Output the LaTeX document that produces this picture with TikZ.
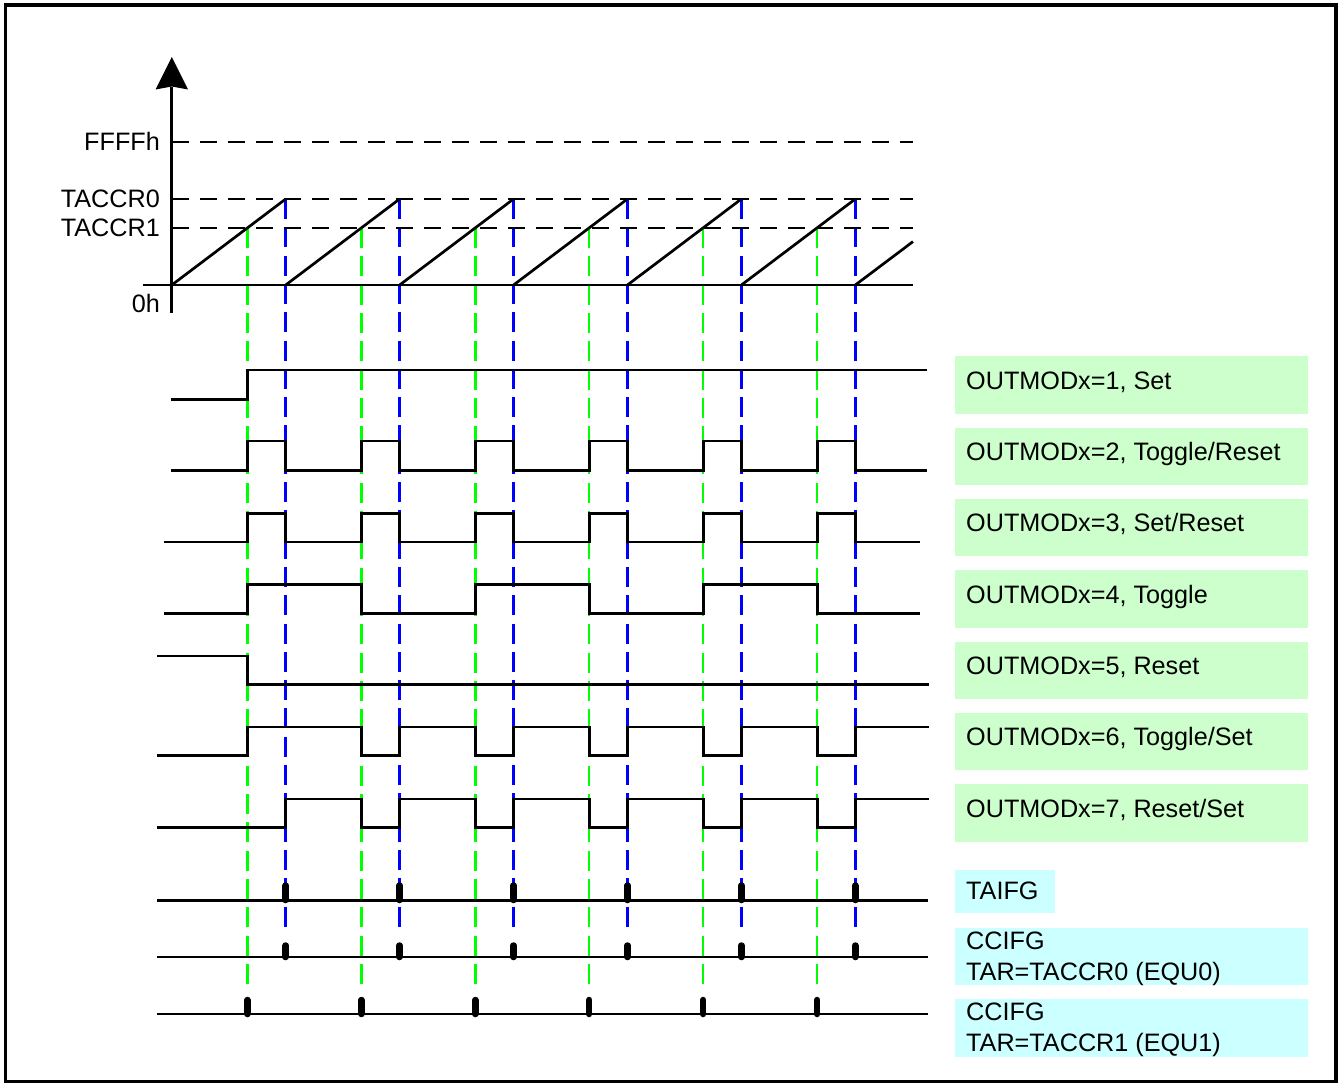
\documentclass[tikz,border=0pt]{standalone}
\usepackage{fontspec}
\setmainfont{Liberation Sans}
\definecolor{boxgreen}{HTML}{CCFFCC}
\definecolor{boxcyan}{HTML}{CCFFFF}
\definecolor{lgreen}{HTML}{00FF00}
\definecolor{lblue}{HTML}{0000FF}
\begin{document}
\begin{tikzpicture}[x=1pt,y=-1pt,
  sig/.style={line width=2.7pt},
  hdash/.style={line width=2.7pt,dash pattern=on 17pt off 11pt},
  gdash/.style={line width=2.5pt,lgreen,dash pattern=on 20pt off 8.3pt},
  bdash/.style={line width=2.5pt,lblue,dash pattern=on 20pt off 8.3pt},
  pulse/.style={line width=6.5pt,line cap=round},
  gbox/.style={fill=boxgreen,draw=none,inner sep=0pt,anchor=north west,minimum width=353pt,minimum height=57.3pt},
  cbox/.style={fill=boxcyan,draw=none,inner sep=0pt,anchor=north west,minimum height=57.3pt},
  lbl/.style={inner sep=0pt,font=\fontsize{25.2}{30}\selectfont},
]
\useasboundingbox (0,0) rectangle (1341,1083);
\draw[line width=3.5pt] (5.5,5) rectangle (1336,1081.5);

% label boxes
\node[gbox] (box1) at (955,356) {};
\node[gbox] (box2) at (955,427.3) {};
\node[gbox] (box3) at (955,498.6) {};
\node[gbox] (box4) at (955,570) {};
\node[gbox] (box5) at (955,641.3) {};
\node[gbox] (box6) at (955,712.6) {};
\node[gbox] (box7) at (955,784) {};
\node[cbox,minimum width=100pt,minimum height=42.7pt] (box8) at (955,870) {};
\node[cbox,minimum width=353pt,minimum height=56.6pt] (box9) at (955,927.7) {};
\node[cbox,minimum width=353pt,minimum height=57.3pt] (box10) at (955,999) {};

\node[lbl,anchor=base west] (t1) at (966,389.3) {OUTMODx=1, Set};
\node[lbl,anchor=base west] (t2) at (966,460.6) {OUTMODx=2, Toggle/Reset};
\node[lbl,anchor=base west] (t3) at (966,531.9) {OUTMODx=3, Set/Reset};
\node[lbl,anchor=base west] (t4) at (966,603.3) {OUTMODx=4, Toggle};
\node[lbl,anchor=base west] (t5) at (966,674.6) {OUTMODx=5, Reset};
\node[lbl,anchor=base west] (t6) at (966,745.9) {OUTMODx=6, Toggle/Set};
\node[lbl,anchor=base west] (t7) at (966,817.3) {OUTMODx=7, Reset/Set};
\node[lbl,anchor=base west] (t8) at (966,899) {TAIFG};
\node[lbl,anchor=base west] (t9a) at (966,949.3) {CCIFG};
\node[lbl,anchor=base west] (t9b) at (966,980) {TAR=TACCR0 (EQU0)};
\node[lbl,anchor=base west] (t10a) at (966,1020.3) {CCIFG};
\node[lbl,anchor=base west] (t10b) at (966,1051) {TAR=TACCR1 (EQU1)};

% axis labels
\node[lbl,anchor=base east] (lf) at (160,150.3) {FFFFh};
\node[lbl,anchor=base east] (lc0) at (160,207.2) {TACCR0};
\node[lbl,anchor=base east] (lc1) at (160,236.2) {TACCR1};
\node[lbl,anchor=base east] (l0) at (160,312.7) {0h};

% vertical dashed timing lines
\foreach \i in {0,...,5} {
  \draw[gdash] ({247.3+113.98*\i},228) -- ({247.3+113.98*\i},988);
  \draw[bdash] ({285.7+113.92*\i},199) -- ({285.7+113.92*\i},932);
}

% counter plot
\draw[hdash] (172,142) -- (913,142);
\draw[hdash] (172,199) -- (913,199);
\draw[hdash] (172,228) -- (913,228);
\draw[sig] (142.7,285) -- (913,285);
\draw[sig] (171.8,87) -- (171.8,313);
\fill (171.8,57) -- (188,89.5) -- (171.8,86.5) -- (155.6,89.5) -- cycle;
\draw[sig] (171.8,285) -- (285.7,199);
\foreach \i in {1,...,5} {
  \draw[sig] ({285.7+113.92*(\i-1)},285) -- ({285.7+113.92*\i},199);
}
\draw[sig] (855.3,285) -- (913,241.6);

% OUTMOD 1
\draw[sig] (171,399.3) -- (247.3,399.3) -- (247.3,370) -- (927,370);
% OUTMOD 2
\draw[sig] (171,470.3) \foreach \i in {0,...,5} { -- ({247.3+113.98*\i},470.3) -- ({247.3+113.98*\i},441) -- ({285.7+113.92*\i},441) -- ({285.7+113.92*\i},470.3) } -- (927,470.3);
% OUTMOD 3
\draw[sig] (164,542) \foreach \i in {0,...,5} { -- ({247.3+113.98*\i},542) -- ({247.3+113.98*\i},513.3) -- ({285.7+113.92*\i},513.3) -- ({285.7+113.92*\i},542) } -- (920,542);
% OUTMOD 4
\draw[sig] (164,613.3) -- (247.3,613.3) -- (247.3,584.3) -- (361.3,584.3) -- (361.3,613.3)
  -- (475.3,613.3) -- (475.3,584.3) -- (589.2,584.3) -- (589.2,613.3)
  -- (703.2,613.3) -- (703.2,584.3) -- (817.2,584.3) -- (817.2,613.3) -- (920,613.3);
% OUTMOD 5
\draw[sig] (157,656) -- (247.3,656) -- (247.3,684.3) -- (929,684.3);
% OUTMOD 6
\draw[sig] (157,755.7) -- (247.3,755.7) -- (247.3,727) \foreach \i in {1,...,5} { -- ({247.3+113.98*\i},727) -- ({247.3+113.98*\i},755.7) -- ({285.7+113.92*\i},755.7) -- ({285.7+113.92*\i},727) } -- (929,727);
% OUTMOD 7
\draw[sig] (157,827.7) -- (285.7,827.7) -- (285.7,799) \foreach \i in {1,...,5} { -- ({247.3+113.98*\i},799) -- ({247.3+113.98*\i},827.7) -- ({285.7+113.92*\i},827.7) -- ({285.7+113.92*\i},799) } -- (929,799);

% flags
\draw[sig] (157,900.7) -- (928,900.7);
\draw[sig] (157,957) -- (928,957);
\draw[sig] (157,1014) -- (928,1014);
\foreach \i in {0,...,5} {
  \draw[pulse] ({285.7+113.92*\i},885.5) -- ({285.7+113.92*\i},900);
  \draw[pulse] ({285.7+113.92*\i},945.5) -- ({285.7+113.92*\i},957);
  \draw[pulse] ({247.3+113.98*\i},1000) -- ({247.3+113.98*\i},1014);
}
\end{tikzpicture}
\end{document}
